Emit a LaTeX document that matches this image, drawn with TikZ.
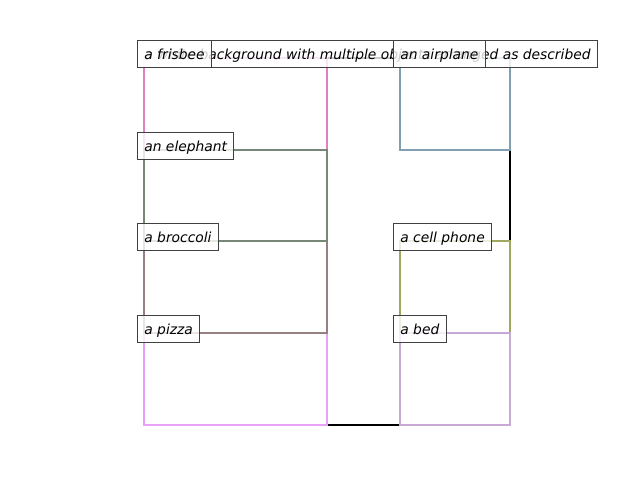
\documentclass[tikz,border=0pt]{standalone}
\usepackage{fontspec}
\setmainfont{DejaVu Sans}
\begin{document}
\begin{tikzpicture}[x=0.01in,y=-0.01in,
  bbox/.style={line width=1.9pt},
  lab/.style={draw=black!75, line width=0.8pt, fill=white, fill opacity=0.8, text opacity=1,
    anchor=north west, inner xsep=4.9pt, inner ysep=0pt, minimum height=27*0.72pt,
    font=\itshape\fontsize{10}{12}\selectfont, text height=9.5pt, text depth=1.8pt}]
\useasboundingbox (0,0) rectangle (640,480);
\definecolor{cfris}{HTML}{E07FC4}
\definecolor{celep}{HTML}{788878}
\definecolor{cbroc}{HTML}{988080}
\definecolor{cpizz}{HTML}{E8A0F8}
\definecolor{cairp}{HTML}{80A0B0}
\definecolor{ccell}{HTML}{A0A860}
\definecolor{cbed}{HTML}{C8A8D4}
% boxes
\draw[bbox, black] (144,58) rectangle (510,425);
\draw[bbox, cfris] (144,58) rectangle (327,150);
\draw[bbox, cairp] (400,58) rectangle (510,150);
\draw[bbox, cpizz] (144,333) rectangle (327,425);
\draw[bbox, cbroc] (144,241) rectangle (327,333);
\draw[bbox, celep] (144,150) rectangle (327,241);
\draw[bbox, ccell] (400,241) rectangle (510,333);
\draw[bbox, cbed] (400,333) rectangle (510,425);
% labels
\node[lab] (lbg) at (137,40) {a white background with multiple objects arranged as described};
\node[lab] (lfris) at (137,40) {a frisbee};
\node[lab] (lairp) at (393,40) {an airplane};
\node[lab] (lelep) at (137,132) {an elephant};
\node[lab] (lbroc) at (137,223) {a broccoli};
\node[lab] (lcell) at (393,223) {a cell phone};
\node[lab] (lpizz) at (137,315) {a pizza};
\node[lab] (lbed) at (393,315) {a bed};
\end{tikzpicture}
\end{document}
